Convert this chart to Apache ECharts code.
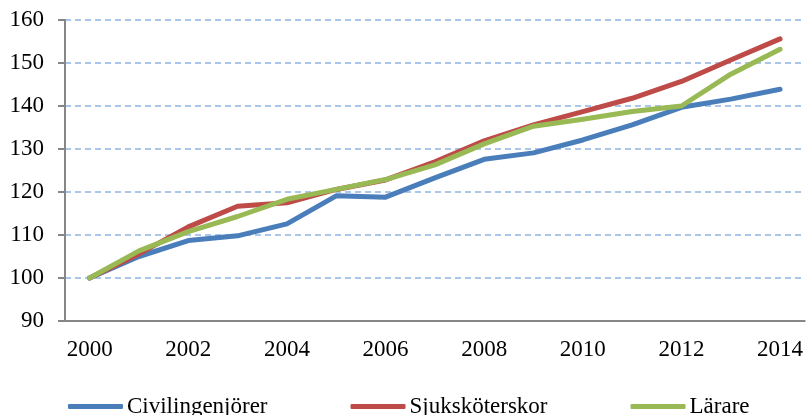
<!DOCTYPE html>
<html>
<head>
<meta charset="utf-8">
<script src="https://cdn.jsdelivr.net/npm/echarts@6/dist/echarts.min.js"></script>
<style>
  html, body { margin: 0; padding: 0; background: #fff; }
  #chart { width: 806px; height: 415px; }
</style>
</head>
<body>
<div id="chart"></div>
<script>
// years on the x axis
const years = ['2000','2001','2002','2003','2004','2005','2006','2007','2008','2009','2010','2011','2012','2013','2014']

// index, 2000 = 100
const civilingenjorer = [100, 105.0, 108.7, 109.8, 112.6, 119.1, 118.8, 123.3, 127.6, 129.1, 132.1, 135.6, 139.7, 141.6, 143.9]
const sjukskoterskor = [100, 105.6, 111.9, 116.7, 117.5, 120.6, 122.8, 127.0, 131.9, 135.6, 138.7, 141.8, 145.7, 150.7, 155.6]
const larare = [100, 106.3, 110.8, 114.3, 118.3, 120.6, 122.9, 126.3, 131.2, 135.3, 136.9, 138.7, 140.0, 147.4, 153.2]

const names = ['Civilingenjörer', 'Sjuksköterskor', 'Lärare']
const colors = ['#4a7ebb', '#be4b48', '#98b954']

const font = 'Liberation Serif'
const axisGray = '#868686'

var myChart = echarts.init(document.getElementById('chart'))

function lineSeries(name, data, color) {
  return {
    name: name,
    type: 'line',
    data: data,
    symbol: 'none',
    lineStyle: { width: 5, color: color, cap: 'round', join: 'round' },
    itemStyle: { color: color },
    emphasis: { disabled: true }
  }
}

var option = {
  animation: false,
  grid: { left: 65, right: 0, top: 20, bottom: 94 },
  legend: {
    left: 63,
    top: 390,
    icon: 'roundRect',
    itemWidth: 55,
    itemHeight: 5,
    itemGap: 83,
    textStyle: { fontFamily: font, fontSize: 23, color: '#000', padding: [0, 0, 0, -1] },
    data: names
  },
  xAxis: {
    type: 'category',
    data: years,
    boundaryGap: true,
    axisLine: { lineStyle: { color: axisGray, width: 2 } },
    axisTick: { interval: 0, length: 6, lineStyle: { color: axisGray, width: 2 } },
    axisLabel: { interval: 1, margin: 17, fontFamily: font, fontSize: 23, color: '#000' },
    splitLine: { show: false }
  },
  yAxis: {
    type: 'value',
    min: 90,
    max: 160,
    interval: 10,
    axisLine: { show: true, lineStyle: { color: axisGray, width: 2 } },
    axisTick: { show: true, length: 7, lineStyle: { color: axisGray, width: 2 } },
    axisLabel: { margin: 21, fontFamily: font, fontSize: 23, color: '#000' },
    splitLine: { lineStyle: { color: '#8eb4e3', type: [6, 4], width: 1.5 } }
  },
  series: [
    lineSeries(names[0], civilingenjorer, colors[0]),
    lineSeries(names[1], sjukskoterskor, colors[1]),
    lineSeries(names[2], larare, colors[2])
  ]
}
myChart.setOption(option, true)
</script>
</body>
</html>
